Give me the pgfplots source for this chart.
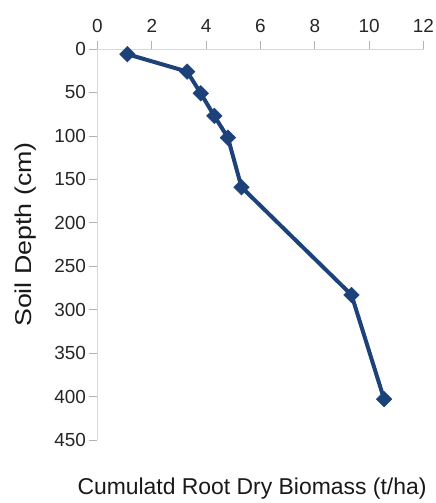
\documentclass[border=0pt]{standalone}
\usepackage{fontspec}
\setmainfont{Liberation Sans}
\usepackage{pgfplots}
\pgfplotsset{compat=1.18}
\definecolor{linecol}{RGB}{28,66,121}
\definecolor{axgray}{RGB}{217,217,217}
\definecolor{tickgray}{RGB}{178,178,178}
\begin{document}
\begin{tikzpicture}
\path[use as bounding box] (-97.5bp,-63bp) rectangle (338.5bp,440bp);
\begin{axis}[
  scale only axis, width=326bp, height=391bp,
  xmin=0, xmax=12, ymin=0, ymax=450, y dir=reverse,
  xtick={0,2,...,12}, ytick={0,50,...,450},
  axis x line*=top, axis y line*=left,
  tick align=outside, major tick length=8bp,
  tick style={draw=tickgray, line width=0.75pt},
  axis line style={-, draw=axgray, line width=0.75pt},
  /pgf/number format/assume math mode=true,
  ticklabel style={font=\fontsize{19}{22}\selectfont, text=black!85},
  xticklabel style={yshift=5bp},
  xlabel={Cumulatd Root Dry Biomass (t/ha)},
  ylabel={Soil Depth (cm)},
  label style={font=\fontsize{23}{27}\selectfont, text=black!90},
  xlabel style={at={([xshift=-8.5bp,yshift=-49bp]rel axis cs:0.5,0)}, anchor=center},
  ylabel style={at={([xshift=-72bp,yshift=10bp]rel axis cs:0,0.5)}, anchor=center, xscale=1.17},
  clip=false,
]
\addplot[color=linecol, line width=4bp, mark=square*, mark size=5.5bp,
  mark options={rotate=45, solid, fill=linecol, line width=0.5bp}]
  coordinates {(1.1,6) (3.3,26) (3.8,51) (4.3,77) (4.8,102) (5.3,159) (9.35,283) (10.55,403)};
\end{axis}
\end{tikzpicture}
\end{document}
